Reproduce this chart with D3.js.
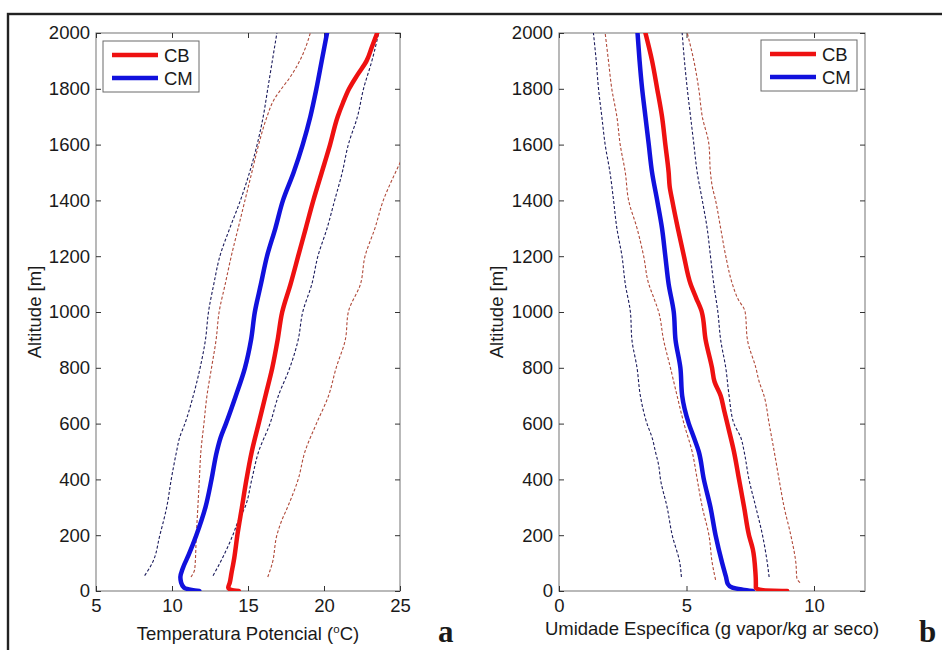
<!DOCTYPE html>
<html>
<head>
<meta charset="utf-8">
<script src="https://cdn.jsdelivr.net/npm/d3@7"></script>
<style>
  html, body { margin: 0; padding: 0; background: #fff; }
  svg { display: block; }
  text { font-family: "Liberation Sans", Arial, Helvetica, sans-serif; fill: #1a1a1a; }
</style>
</head>
<body>
<svg id="chart" width="942" height="650"></svg>
<script>
// ---------------- DATA ----------------
// Panel a: potential temperature (°C) vs altitude (m); pairs are [altitude, value]
const tempTicks = [5, 10, 15, 20, 25];
const altTicks = [0, 200, 400, 600, 800, 1000, 1200, 1400, 1600, 1800, 2000];
const humTicks = [0, 5, 10];
const seriesNames = ["CB", "CM"];

const tempCBmean = [[0,14.4],[4,13.9],[12,13.7],[30,13.8],[60,13.9],[120,14.1],[200,14.3],[300,14.6],[400,14.9],[500,15.25],[600,15.7],[700,16.15],[800,16.6],[900,16.95],[1000,17.25],[1100,17.8],[1200,18.3],[1300,18.8],[1400,19.3],[1500,19.85],[1600,20.4],[1700,20.9],[1750,21.25],[1800,21.65],[1850,22.2],[1900,22.8],[1950,23.15],[2000,23.5]];
const tempCMmean = [[0,11.8],[4,11.3],[12,10.8],[30,10.6],[50,10.55],[80,10.7],[130,11.1],[200,11.6],[300,12.2],[400,12.6],[500,12.95],[550,13.2],[600,13.55],[700,14.2],[800,14.8],[900,15.2],[1000,15.45],[1100,15.85],[1200,16.25],[1300,16.8],[1400,17.3],[1500,18.0],[1600,18.6],[1700,19.1],[1800,19.5],[1900,19.85],[2000,20.2]];
const tempCBlow = [[50,11.25],[80,11.5],[200,11.6],[300,11.7],[400,11.8],[500,11.9],[600,12.1],[700,12.3],[800,12.6],[900,12.9],[1000,13.1],[1100,13.5],[1200,13.9],[1300,14.35],[1400,14.8],[1500,15.25],[1600,15.7],[1700,16.25],[1760,16.7],[1800,17.2],[1840,17.75],[1900,18.4],[1950,18.8],[2000,19.1]];
const tempCBhigh = [[50,16.3],[100,16.6],[200,16.9],[250,17.2],[300,17.6],[400,18.3],[500,18.75],[600,19.5],[700,20.3],[800,20.8],[900,21.4],[1000,21.6],[1100,22.4],[1200,22.7],[1300,23.35],[1400,23.9],[1500,24.7],[1600,25.6]];
const tempCMlow = [[55,8.2],[100,8.7],[200,9.2],[300,9.65],[400,9.95],[500,10.3],[550,10.5],[600,10.85],[700,11.4],[800,11.85],[900,12.2],[1000,12.4],[1100,12.75],[1200,13.15],[1300,13.8],[1400,14.5],[1500,15.1],[1600,15.6],[1700,16.0],[1800,16.3],[1900,16.6],[2000,16.9]];
const tempCMhigh = [[55,12.7],[100,13.15],[200,14.0],[250,14.35],[300,14.8],[400,15.25],[500,15.7],[600,16.45],[700,17.0],[800,17.75],[900,18.3],[1000,18.6],[1100,19.2],[1200,19.6],[1300,20.2],[1400,20.7],[1500,21.2],[1600,21.6],[1700,22.2],[1800,22.6],[1900,23.15],[2000,23.6]];

// Panel b: specific humidity (g vapor / kg dry air) vs altitude (m)
const humCBmean = [[0,8.95],[3,8.0],[10,7.72],[30,7.72],[70,7.7],[150,7.6],[200,7.45],[300,7.26],[400,7.06],[500,6.86],[600,6.6],[650,6.47],[700,6.34],[750,6.1],[800,6.0],[900,5.75],[1000,5.6],[1050,5.38],[1100,5.16],[1200,4.9],[1300,4.66],[1400,4.44],[1450,4.34],[1500,4.3],[1600,4.17],[1700,4.04],[1800,3.85],[1900,3.65],[2000,3.39]];
const humCMmean = [[0,7.6],[5,7.2],[12,6.8],[25,6.62],[50,6.55],[100,6.4],[200,6.14],[300,5.94],[400,5.68],[500,5.48],[550,5.29],[600,5.09],[700,4.83],[800,4.76],[900,4.57],[1000,4.5],[1100,4.3],[1200,4.17],[1300,4.04],[1400,3.85],[1500,3.65],[1600,3.52],[1700,3.39],[1800,3.26],[1900,3.16],[2000,3.08]];
const humCBlow = [[40,6.14],[100,6.01],[200,5.88],[300,5.62],[400,5.42],[500,5.22],[600,4.9],[700,4.63],[750,4.5],[800,4.37],[900,4.1],[1000,3.91],[1050,3.72],[1100,3.52],[1200,3.32],[1300,3.06],[1400,2.73],[1500,2.6],[1600,2.4],[1700,2.27],[1800,2.07],[1900,1.94],[2000,1.81]];
const humCBhigh = [[30,9.45],[45,9.33],[100,9.29],[200,9.09],[300,8.83],[400,8.63],[500,8.44],[600,8.24],[700,8.04],[750,7.85],[800,7.72],[900,7.39],[1000,7.3],[1050,7.0],[1100,6.8],[1200,6.54],[1300,6.34],[1400,6.14],[1450,6.01],[1500,5.94],[1600,5.88],[1700,5.62],[1800,5.48],[1900,5.29],[2000,5.03]];
const humCMlow = [[50,4.8],[100,4.74],[200,4.44],[300,4.24],[400,3.98],[450,3.91],[500,3.78],[550,3.65],[600,3.45],[700,3.19],[800,3.06],[900,2.86],[1000,2.8],[1100,2.6],[1200,2.47],[1300,2.27],[1400,2.14],[1500,2.0],[1600,1.81],[1700,1.68],[1800,1.55],[1900,1.46],[2000,1.35]];
const humCMhigh = [[50,8.24],[100,8.17],[200,7.98],[300,7.72],[400,7.45],[500,7.26],[550,7.13],[600,6.86],[700,6.67],[800,6.54],[900,6.34],[1000,6.23],[1100,6.07],[1200,5.94],[1300,5.81],[1400,5.62],[1500,5.42],[1600,5.29],[1700,5.16],[1800,5.03],[1900,4.92],[2000,4.83]];

// ---------------- STYLE ----------------
const COL_CB = "#ee1111", COL_CM = "#1111dd";
const COL_CB_D = "#b04a3a", COL_CM_D = "#1c1c5c";
const FS = 18.5;

const svg = d3.select("#chart");

// outer frame
svg.append("rect").attr("x", 8).attr("y", 14).attr("width", 960).attr("height", 700)
  .attr("fill", "none").attr("stroke", "#222").attr("stroke-width", 2.4);

function panel(opts) {
  const { left, right, top, bottom, xDomain, xTicks, series, legendX, legendY, xTitle, xTitleY, yTitleX, letter, letterX, id } = opts;
  const x = d3.scaleLinear().domain(xDomain).range([left, right]);
  const y = d3.scaleLinear().domain([0, 2000]).range([bottom, top]);
  const g = svg.append("g");

  g.append("clipPath").attr("id", "clip" + id).append("rect")
    .attr("x", left).attr("y", top).attr("width", right - left).attr("height", bottom - top);

  // axis box
  g.append("rect").attr("x", left).attr("y", top).attr("width", right - left).attr("height", bottom - top)
    .attr("fill", "none").attr("stroke", "#8a8a8a").attr("stroke-width", 1.2);

  // axes (ticks inside)
  const ax = g.append("g").attr("transform", `translate(0,${bottom})`)
    .call(d3.axisBottom(x).tickValues(xTicks).tickSize(-5).tickPadding(8).tickFormat(d3.format("d")));
  const axT = g.append("g").attr("transform", `translate(0,${top})`)
    .call(d3.axisTop(x).tickValues(xTicks).tickSize(-5).tickFormat(""));
  const ay = g.append("g").attr("transform", `translate(${left},0)`)
    .call(d3.axisLeft(y).tickValues(altTicks).tickSize(-5).tickPadding(6).tickFormat(d3.format("d")));
  const ayR = g.append("g").attr("transform", `translate(${right},0)`)
    .call(d3.axisRight(y).tickValues(altTicks).tickSize(-5).tickFormat(""));
  [ax, axT, ay, ayR].forEach(a => {
    a.select(".domain").remove();
    a.selectAll(".tick line").attr("stroke", "#333").attr("stroke-width", 1);
    a.selectAll("text").attr("font-size", FS).attr("fill", "#1a1a1a")
      .attr("font-family", "'Liberation Sans', Arial, sans-serif");
  });

  const line = d3.line().x(d => x(d[1])).y(d => y(d[0])).curve(d3.curveMonotoneY);
  const lines = g.append("g").attr("clip-path", `url(#clip${id})`);
  series.forEach(s => {
    lines.append("path").datum(s.data).attr("d", line)
      .attr("fill", "none").attr("stroke", s.color).attr("stroke-width", s.width)
      .attr("stroke-dasharray", s.dash || null).attr("stroke-linejoin", "round").attr("stroke-linecap", s.dash ? "butt" : "round");
  });

  // legend
  const lg = g.append("g").attr("transform", `translate(${legendX},${legendY})`);
  lg.append("rect").attr("width", 96).attr("height", 51).attr("fill", "#fff")
    .attr("stroke", "#6a6a6a").attr("stroke-width", 1);
  [[seriesNames[0], COL_CB], [seriesNames[1], COL_CM]].forEach((e, i) => {
    const yy = 14 + i * 23;
    lg.append("line").attr("x1", 9).attr("x2", 55).attr("y1", yy).attr("y2", yy)
      .attr("stroke", e[1]).attr("stroke-width", 4.5);
    lg.append("text").attr("x", 61).attr("y", yy + 6.5).attr("font-size", FS).text(e[0]);
  });

  // titles
  const t = g.append("text").attr("x", (left + right) / 2).attr("y", xTitleY).attr("text-anchor", "middle")
    .attr("font-size", FS);
  let pendingDy = 0;
  xTitle.forEach(part => {
    if (part.sup) {
      t.append("tspan").attr("font-size", FS * 0.62).attr("dy", -7).text(part.sup);
      pendingDy = 7;
    } else {
      t.append("tspan").attr("dy", pendingDy || null).text(part.txt);
      pendingDy = 0;
    }
  });
  g.append("text").attr("transform", `translate(${yTitleX},${(top + bottom) / 2}) rotate(-90)`)
    .attr("text-anchor", "middle").attr("font-size", FS).text("Altitude [m]");
  g.append("text").attr("x", letterX).attr("y", 642).attr("font-size", 31).attr("font-weight", "bold")
    .style("font-family", "'Liberation Serif', 'Times New Roman', serif").text(letter);
}

const thick = 4.5, thin = 1.1, dash = "3,2";

panel({
  id: "a", left: 96, right: 400, top: 33, bottom: 591, xDomain: [5, 25], xTicks: tempTicks,
  legendX: 103, legendY: 41,
  xTitle: [{ txt: "Temperatura Potencial (" }, { sup: "o" }, { txt: "C)" }], xTitleY: 640,
  yTitleX: 41, letter: "a", letterX: 438,
  series: [
    { data: tempCMlow, color: COL_CM_D, width: thin, dash },
    { data: tempCMhigh, color: COL_CM_D, width: thin, dash },
    { data: tempCBlow, color: COL_CB_D, width: thin, dash },
    { data: tempCBhigh, color: COL_CB_D, width: thin, dash },
    { data: tempCMmean, color: COL_CM, width: thick },
    { data: tempCBmean, color: COL_CB, width: thick }
  ]
});

panel({
  id: "b", left: 559, right: 865, top: 33, bottom: 591, xDomain: [0, 12], xTicks: humTicks,
  legendX: 761, legendY: 40,
  xTitle: [{ txt: "Umidade Espec\u00EDfica (g vapor/kg ar seco)" }], xTitleY: 635,
  yTitleX: 503, letter: "b", letterX: 919,
  series: [
    { data: humCMlow, color: COL_CM_D, width: thin, dash },
    { data: humCMhigh, color: COL_CM_D, width: thin, dash },
    { data: humCBlow, color: COL_CB_D, width: thin, dash },
    { data: humCBhigh, color: COL_CB_D, width: thin, dash },
    { data: humCMmean, color: COL_CM, width: thick },
    { data: humCBmean, color: COL_CB, width: thick }
  ]
});
</script>
</body>
</html>
